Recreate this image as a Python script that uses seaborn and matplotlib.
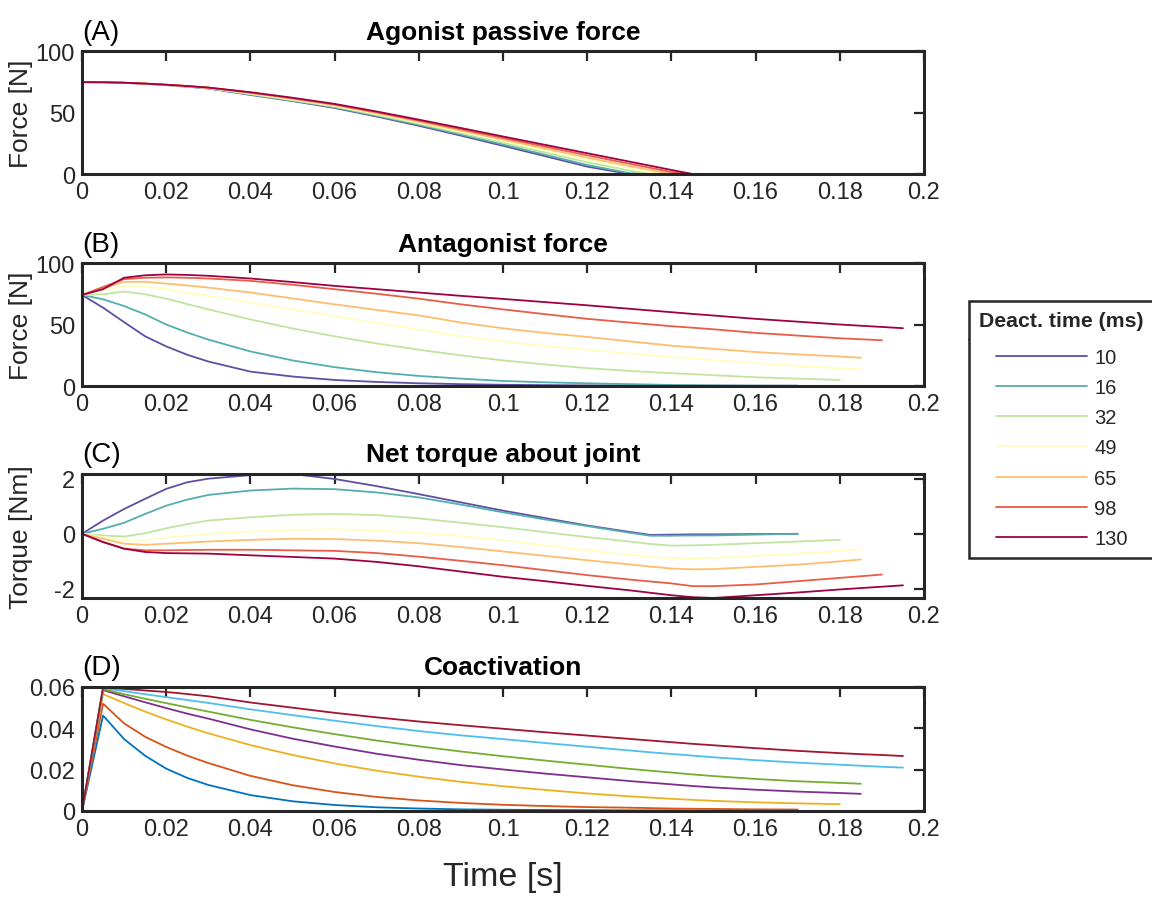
import numpy as np
import pandas as pd
import matplotlib
matplotlib.use("Agg")
import matplotlib.pyplot as plt
from matplotlib.lines import Line2D
from matplotlib.legend_handler import HandlerLine2D
import seaborn as sns

# ---------------------------------------------------------------- data
time_s = [0, 0.005, 0.01, 0.015, 0.02, 0.025, 0.03, 0.04, 0.05, 0.06, 0.07,
          0.08, 0.09, 0.10, 0.11, 0.12, 0.13, 0.135, 0.14, 0.145, 0.15, 0.16,
          0.17, 0.18, 0.185, 0.19, 0.195]

deact_ms = [10, 16, 32, 49, 65, 98, 130]

x_ticks = [0, 0.02, 0.04, 0.06, 0.08, 0.10, 0.12, 0.14, 0.16, 0.18, 0.20]
x_tick_labels = ["0", "0.02", "0.04", "0.06", "0.08", "0.1", "0.12", "0.14",
                 "0.16", "0.18", "0.2"]

# (A) agonist passive force [N], one list per deactivation time
agonist_passive = [
    [74.7, 74.6, 74.1, 73.3, 72.3, 71.0, 69.5, 64.3, 59.3, 53.7, 46.7, 39.2, 31.2, 22.9, 14.5, 6.0, 0, 0, 0, 0, 0, 0, 0],
    [74.7, 74.6, 74.1, 73.3, 72.4, 71.1, 69.7, 64.6, 59.6, 54.2, 47.3, 40.0, 32.1, 24.0, 15.7, 7.3, 0.7, 0, 0, 0, 0, 0, 0],
    [74.7, 74.6, 74.2, 73.4, 72.4, 71.2, 69.8, 65.0, 60.0, 54.8, 48.0, 40.9, 33.2, 25.5, 17.5, 9.5, 2.8, 0, 0, 0, 0, 0, 0, 0],
    [74.7, 74.6, 74.2, 73.4, 72.5, 71.3, 70.0, 65.4, 60.6, 55.4, 48.8, 41.8, 34.3, 26.8, 19.2, 11.5, 4.8, 1.4, 0, 0, 0, 0, 0, 0, 0],
    [74.7, 74.6, 74.2, 73.5, 72.5, 71.4, 70.1, 65.8, 61.1, 56.0, 49.5, 42.6, 35.3, 28.0, 20.7, 13.3, 6.5, 3.2, 0, 0, 0, 0, 0, 0, 0],
    [74.7, 74.6, 74.2, 73.5, 72.6, 71.5, 70.2, 66.2, 61.6, 56.5, 50.2, 43.4, 36.4, 29.3, 22.3, 15.2, 8.4, 5.0, 1.6, 0, 0, 0, 0, 0, 0, 0],
    [74.7, 74.6, 74.2, 73.5, 72.6, 71.5, 70.3, 66.5, 62.0, 57.0, 50.8, 44.2, 37.4, 30.5, 23.7, 16.9, 10.1, 6.7, 3.3, 0, 0, 0, 0, 0, 0, 0, 0],
]

# (B) antagonist force [N]
antagonist_force = [
    [74, 63.7, 51.9, 40.4, 32.2, 25.4, 19.9, 11.7, 7.7, 4.9, 3.3, 2.2, 1.5, 1.0, 0.7, 0.5, 0.4, 0.35, 0.3, 0.3, 0.25, 0.2, 0.2],
    [74, 70.5, 65.0, 58.2, 50.0, 43.5, 37.7, 28.1, 20.8, 15.3, 11.2, 8.2, 6.0, 4.1, 3.0, 2.2, 1.5, 1.2, 0.8, 0.6, 0.5, 0.3, 0.2],
    [74, 74.6, 76.8, 74.6, 71.0, 66.6, 62.3, 54.1, 46.8, 40.4, 34.6, 29.5, 24.9, 20.8, 17.5, 14.5, 12.3, 11.3, 10.4, 9.6, 8.8, 7.1, 6.0, 4.9],
    [74, 77.5, 81.4, 80.9, 78.7, 76.0, 73.2, 67.8, 62.3, 56.8, 51.3, 45.9, 40.6, 36.2, 32.6, 29.5, 26.5, 25.0, 23.5, 22.3, 21.1, 18.6, 16.3, 14.5, 13.8],
    [74, 79.5, 84.7, 84.7, 83.3, 81.8, 80.0, 76.0, 71.2, 66.4, 61.8, 57.4, 51.6, 46.9, 43.1, 39.9, 36.3, 34.6, 32.8, 31.5, 30.2, 27.6, 25.7, 24.0, 22.9],
    [74, 80.5, 86.9, 88.0, 88.3, 88.0, 87.4, 85.5, 82.3, 78.7, 75.0, 71.0, 66.4, 62.3, 58.4, 54.6, 51.6, 50.1, 48.6, 47.4, 46.1, 43.2, 41.0, 38.8, 38.0, 37.2],
    [74, 78.7, 88.0, 90.0, 90.7, 90.3, 89.6, 87.4, 84.5, 81.4, 78.7, 76.0, 73.3, 70.8, 68.2, 65.6, 62.8, 61.4, 60.0, 58.6, 57.3, 54.6, 52.3, 50.0, 49.0, 48.0, 47.0],
]

# (C) net torque about the joint [Nm]
net_torque = [
    [0, 0.48, 0.90, 1.27, 1.63, 1.87, 2.00, 2.13, 2.17, 1.99, 1.73, 1.44, 1.14, 0.84, 0.57, 0.30, 0.07, -0.04, -0.03, -0.02, -0.02, -0.01, 0.0],
    [0, 0.18, 0.40, 0.72, 1.02, 1.24, 1.41, 1.57, 1.64, 1.62, 1.50, 1.32, 1.06, 0.78, 0.52, 0.28, 0.04, -0.07, -0.07, -0.06, -0.06, -0.03, 0.0],
    [0, -0.06, -0.10, 0.02, 0.20, 0.35, 0.48, 0.60, 0.69, 0.72, 0.68, 0.56, 0.40, 0.24, 0.06, -0.12, -0.28, -0.37, -0.43, -0.42, -0.40, -0.34, -0.28, -0.22],
    [0, -0.12, -0.24, -0.22, -0.14, -0.07, 0.0, 0.08, 0.14, 0.17, 0.12, 0.03, -0.08, -0.24, -0.42, -0.60, -0.76, -0.84, -0.88, -0.89, -0.88, -0.80, -0.72, -0.62, -0.57],
    [0, -0.18, -0.36, -0.40, -0.36, -0.32, -0.28, -0.22, -0.18, -0.19, -0.25, -0.34, -0.48, -0.64, -0.80, -0.96, -1.11, -1.19, -1.26, -1.29, -1.28, -1.20, -1.12, -1.00, -0.93],
    [0, -0.30, -0.54, -0.60, -0.60, -0.59, -0.58, -0.58, -0.60, -0.62, -0.70, -0.83, -0.98, -1.14, -1.32, -1.50, -1.66, -1.73, -1.80, -1.90, -1.90, -1.84, -1.72, -1.60, -1.54, -1.48],
    [0, -0.30, -0.54, -0.66, -0.70, -0.71, -0.72, -0.78, -0.84, -0.90, -1.02, -1.18, -1.37, -1.56, -1.72, -1.89, -2.05, -2.14, -2.23, -2.30, -2.33, -2.23, -2.13, -2.02, -1.97, -1.92, -1.87],
]

# (D) coactivation
coactivation = [
    [0, 0.0462, 0.0348, 0.0267, 0.0205, 0.0160, 0.0126, 0.0077, 0.0047, 0.0029, 0.0018, 0.0012, 0.0008, 0.0006, 0.0005, 0.0004, 0.0003, 0.0003, 0.0003, 0.0002, 0.0002, 0.0002, 0.0002],
    [0, 0.0519, 0.0424, 0.0359, 0.0310, 0.0268, 0.0232, 0.0170, 0.0125, 0.0092, 0.0068, 0.0051, 0.0039, 0.0030, 0.0024, 0.0019, 0.0016, 0.0014, 0.0012, 0.0011, 0.0010, 0.0008, 0.0007],
    [0, 0.0566, 0.0522, 0.0481, 0.0443, 0.0408, 0.0376, 0.0319, 0.0271, 0.0230, 0.0195, 0.0166, 0.0141, 0.0120, 0.0102, 0.0085, 0.0071, 0.0065, 0.0059, 0.0054, 0.0049, 0.0042, 0.0037, 0.0033],
    [0, 0.0585, 0.0555, 0.0526, 0.0498, 0.0471, 0.0447, 0.0395, 0.0350, 0.0312, 0.0277, 0.0248, 0.0222, 0.0201, 0.0181, 0.0163, 0.0145, 0.0137, 0.0129, 0.0121, 0.0114, 0.0103, 0.0094, 0.0087, 0.0083],
    [0, 0.0590, 0.0565, 0.0543, 0.0522, 0.0501, 0.0481, 0.0441, 0.0405, 0.0372, 0.0341, 0.0313, 0.0288, 0.0265, 0.0244, 0.0224, 0.0204, 0.0195, 0.0186, 0.0177, 0.0169, 0.0155, 0.0144, 0.0136, 0.0132],
    [0, 0.0595, 0.0580, 0.0565, 0.0551, 0.0537, 0.0523, 0.0492, 0.0464, 0.0437, 0.0411, 0.0387, 0.0366, 0.0348, 0.0329, 0.0311, 0.0293, 0.0284, 0.0276, 0.0268, 0.0260, 0.0246, 0.0234, 0.0224, 0.0219, 0.0214, 0.0210],
    [0, 0.0599, 0.0591, 0.0583, 0.0576, 0.0566, 0.0555, 0.0525, 0.0500, 0.0475, 0.0453, 0.0433, 0.0415, 0.0398, 0.0381, 0.0365, 0.0349, 0.0341, 0.0333, 0.0325, 0.0318, 0.0304, 0.0291, 0.0280, 0.0275, 0.0271, 0.0266],
]

panel_titles = ["Agonist passive force", "Antagonist force",
                "Net torque about joint", "Coactivation"]
panel_tags = ["(A)", "(B)", "(C)", "(D)"]
y_labels = ["Force [N]", "Force [N]", "Torque [Nm]", ""]
y_ticks = [[0, 50, 100], [0, 50, 100], [-2, 0, 2], [0, 0.02, 0.04, 0.06]]
y_tick_labels = [["0", "50", "100"], ["0", "50", "100"], ["-2", "0", "2"],
                 ["0", "0.02", "0.04", "0.06"]]

# ---------------------------------------------------------------- style
sns.set_theme(style="white")
plt.rcParams["font.family"] = ["Liberation Sans", "DejaVu Sans"]
plt.rcParams["axes.unicode_minus"] = False

ink = "#262626"
spectral = sns.color_palette("Spectral_r", as_cmap=True)
spectral_colors = [spectral(v) for v in np.linspace(0, 1, len(deact_ms))]
matlab_colors = ["#0072BD", "#D95319", "#EDB120", "#7E2F8E",
                 "#77AC30", "#4DBEEE", "#A2142F"]
hue_names = [str(d) for d in deact_ms]


def long_frame(series):
    rows = []
    for d, vals in zip(deact_ms, series):
        for t, v in zip(time_s, vals):
            rows.append({"time": t, "value": v, "deact": str(d)})
    return pd.DataFrame(rows)


fig = plt.figure(figsize=(11.52, 9.04), dpi=100)
W, H = 1152, 904
left_px, right_px = 82, 924
panel_px = [(52, 175), (264, 387), (475, 599), (688, 812)]

datasets = [agonist_passive, antagonist_force, net_torque, coactivation]
palettes = [spectral_colors, spectral_colors, spectral_colors, matlab_colors]
axes = []
for i, (top, bot) in enumerate(panel_px):
    ax = fig.add_axes([left_px / W, 1 - bot / H,
                       (right_px - left_px) / W, (bot - top) / H])
    df = long_frame(datasets[i])
    sns.lineplot(data=df, x="time", y="value", hue="deact",
                 hue_order=hue_names, palette=palettes[i], estimator=None,
                 sort=False, linewidth=1.3, legend=False, ax=ax)

    ax.set_xlim(0, 0.2)
    ax.set_xticks(x_ticks)
    ax.set_xticklabels(x_tick_labels)
    ax.set_yticks(y_ticks[i])
    ax.set_yticklabels(y_tick_labels[i])
    if i == 2:
        ax.set_ylim(np.min([min(s) for s in net_torque]),
                    np.max([max(s) for s in net_torque]))
    else:
        ax.set_ylim(y_ticks[i][0], y_ticks[i][-1])

    ax.tick_params(direction="in", length=7, width=1.6, top=True, right=True,
                   color=ink, labelcolor=ink, labelsize=17, pad=5)
    for sp in ax.spines.values():
        sp.set_visible(True)
        sp.set_linewidth(2.2)
        sp.set_color(ink)

    ax.set_xlabel("")
    ax.set_ylabel(y_labels[i], fontsize=19, color=ink)
    ax.yaxis.set_label_coords(-0.058, 0.5)
    ax.set_title(panel_titles[i], fontsize=19, fontweight="bold",
                 color="black", pad=10)
    ax.set_title(panel_tags[i], loc="left", fontsize=20, color="black", pad=9)
    axes.append(ax)

axes[-1].set_xlabel("Time [s]", fontsize=24.5, color=ink, labelpad=15)

# ---------------------------------------------------------------- legend
handles = [Line2D([], [], color=c, lw=1.3) for c in spectral_colors]
leg = fig.legend(handles, hue_names, loc="upper left",
                 bbox_to_anchor=(969 / W, 1 - 302 / H), borderaxespad=0,
                 title="Deact. time (ms)",
                 title_fontproperties={"weight": "bold", "size": 15.3},
                 fontsize=14.5, frameon=True, fancybox=False,
                 edgecolor=ink, framealpha=1, borderpad=0.5,
                 handlelength=5.37, handletextpad=0.35, labelspacing=0.56,
                 alignment="left",
                 handler_map={Line2D: HandlerLine2D(xpad=0.85)})
leg.get_frame().set_linewidth(1.8)
# extra room between the header and the entries
leg._legend_box.sep = 12.6

fig.canvas.draw()
renderer = fig.canvas.get_renderer()
leg_bb = leg.get_window_extent(renderer)
title_bb = leg.get_title().get_window_extent(renderer)
first_bb = leg.get_texts()[0].get_window_extent(renderer)
sep_y = 0.5 * (title_bb.y0 + first_bb.y1)
fig.add_artist(Line2D([leg_bb.x0 / fig.bbox.width, leg_bb.x1 / fig.bbox.width],
                      [sep_y / fig.bbox.height, sep_y / fig.bbox.height],
                      transform=fig.transFigure, color=ink, lw=1.8))

fig.savefig("out.png", dpi=100, facecolor="white")
